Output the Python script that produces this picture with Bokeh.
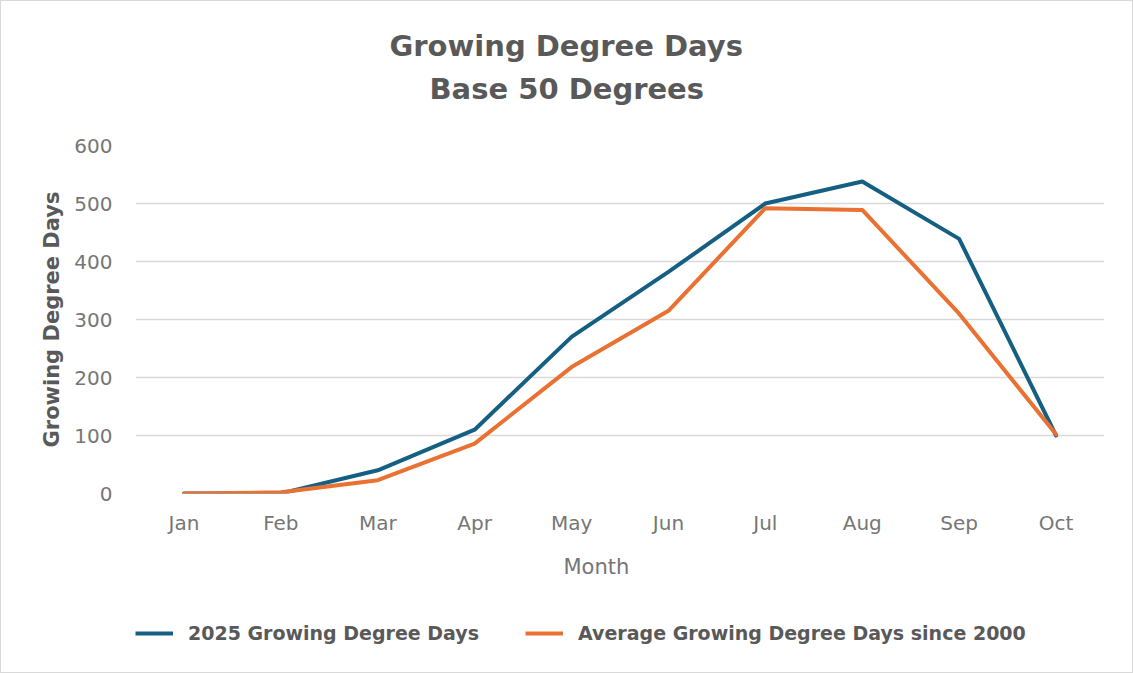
import numpy as np
from bokeh.plotting import figure
from bokeh.layouts import column
from bokeh.models import Legend, LegendItem, Title, FactorRange, Range1d, SingleIntervalTicker
from bokeh.embed import file_html
from bokeh.resources import INLINE

months = ["Jan", "Feb", "Mar", "Apr", "May", "Jun", "Jul", "Aug", "Sep", "Oct"]
gdd_2025 = [0, 0, 40, 110, 270, 382, 500, 538, 439, 100]
gdd_avg = [0, 2, 23, 86, 218, 315, 492, 489, 310, 102]
title_lines = ["Growing Degree Days", "Base 50 Degrees"]
series_names = ["2025 Growing Degree Days", "Average Growing Degree Days since 2000"]

BLUE = "#156082"
ORANGE = "#E97132"
TXT = "#595959"
TICK = "#767676"
FONT = "DejaVu Sans"

p = figure(frame_width=969, frame_height=348,
           x_range=FactorRange(*months), y_range=Range1d(0, 600),
           output_backend="svg", toolbar_location=None,
           min_border_left=134, min_border_right=28,
           min_border_top=144, min_border_bottom=108)
p.outline_line_color = None
p.background_fill_color = "white"
p.border_fill_color = "white"

r1 = p.line(months, gdd_2025, line_color=BLUE, line_width=4, line_join="round", line_cap="round")
r2 = p.line(months, gdd_avg, line_color=ORANGE, line_width=4, line_join="round", line_cap="round")

p.xgrid.grid_line_color = None
p.ygrid.grid_line_color = "#d9d9d9"
p.ygrid.grid_line_width = 1.5

p.yaxis.ticker = SingleIntervalTicker(interval=100)
for ax in (p.xaxis[0], p.yaxis[0]):
    ax.axis_line_color = None
    ax.major_tick_line_color = None
    ax.minor_tick_line_color = None
    ax.major_tick_out = 0
    ax.minor_tick_out = 0
    ax.major_label_text_color = TICK
    ax.major_label_text_font = FONT
    ax.major_label_text_font_size = "20px"

p.yaxis.major_label_standoff = 23
p.xaxis.major_label_standoff = 17
p.yaxis.axis_label = "Growing Degree Days"
p.yaxis.axis_label_text_font = FONT
p.yaxis.axis_label_text_font_style = "bold"
p.yaxis.axis_label_text_font_size = "21px"
p.yaxis.axis_label_text_color = TXT
p.yaxis.axis_label_standoff = 7

# titles (added nearest-to-frame first)
p.add_layout(Title(text=" ", text_font_size="1px", standoff=35), "above")
p.add_layout(Title(text=title_lines[1], align="left", offset=294, vertical_align="top",
                   standoff=0, text_font=FONT, text_font_style="bold",
                   text_font_size="29px", text_color=TXT), "above")
p.add_layout(Title(text=title_lines[0], align="left", offset=254, vertical_align="bottom",
                   standoff=18, text_font=FONT, text_font_style="bold",
                   text_font_size="29px", text_color=TXT), "above")

p.add_layout(Title(text="Month", align="left", offset=428, vertical_align="middle",
                   standoff=33, text_font=FONT, text_font_style="normal",
                   text_font_size="21px", text_color=TICK), "below")

# legend strip below the chart (legend samples carry no visible data)
leg = figure(width=1131, height=71, x_range=Range1d(0, 1), y_range=Range1d(0, 1),
             x_axis_type=None, y_axis_type=None, min_border=0,
             output_backend="svg", toolbar_location=None)
leg.outline_line_color = None
leg.xgrid.grid_line_color = None
leg.ygrid.grid_line_color = None
nan_pair = np.array([np.nan, np.nan])
lr1 = leg.line(x=np.array([0.0, 1.0]), y=nan_pair, line_color=BLUE, line_width=4)
lr2 = leg.line(x=np.array([0.0, 1.0]), y=nan_pair, line_color=ORANGE, line_width=4)
legend = Legend(items=[LegendItem(label=series_names[0], renderers=[lr1]),
                       LegendItem(label=series_names[1], renderers=[lr2])],
                orientation="horizontal", location=(0, 28),
                glyph_width=38, glyph_height=20, label_standoff=15, spacing=46,
                padding=0, margin=0, border_line_color=None, background_fill_alpha=0,
                label_text_font=FONT, label_text_font_style="bold",
                label_text_font_size="19px", label_text_color=TXT)
leg.add_layout(legend, "center")

page = column(p, leg, spacing=0)
page.styles = {"border": "1px solid #d9d9d9"}

open("out.html", "w").write(file_html(page, INLINE))
